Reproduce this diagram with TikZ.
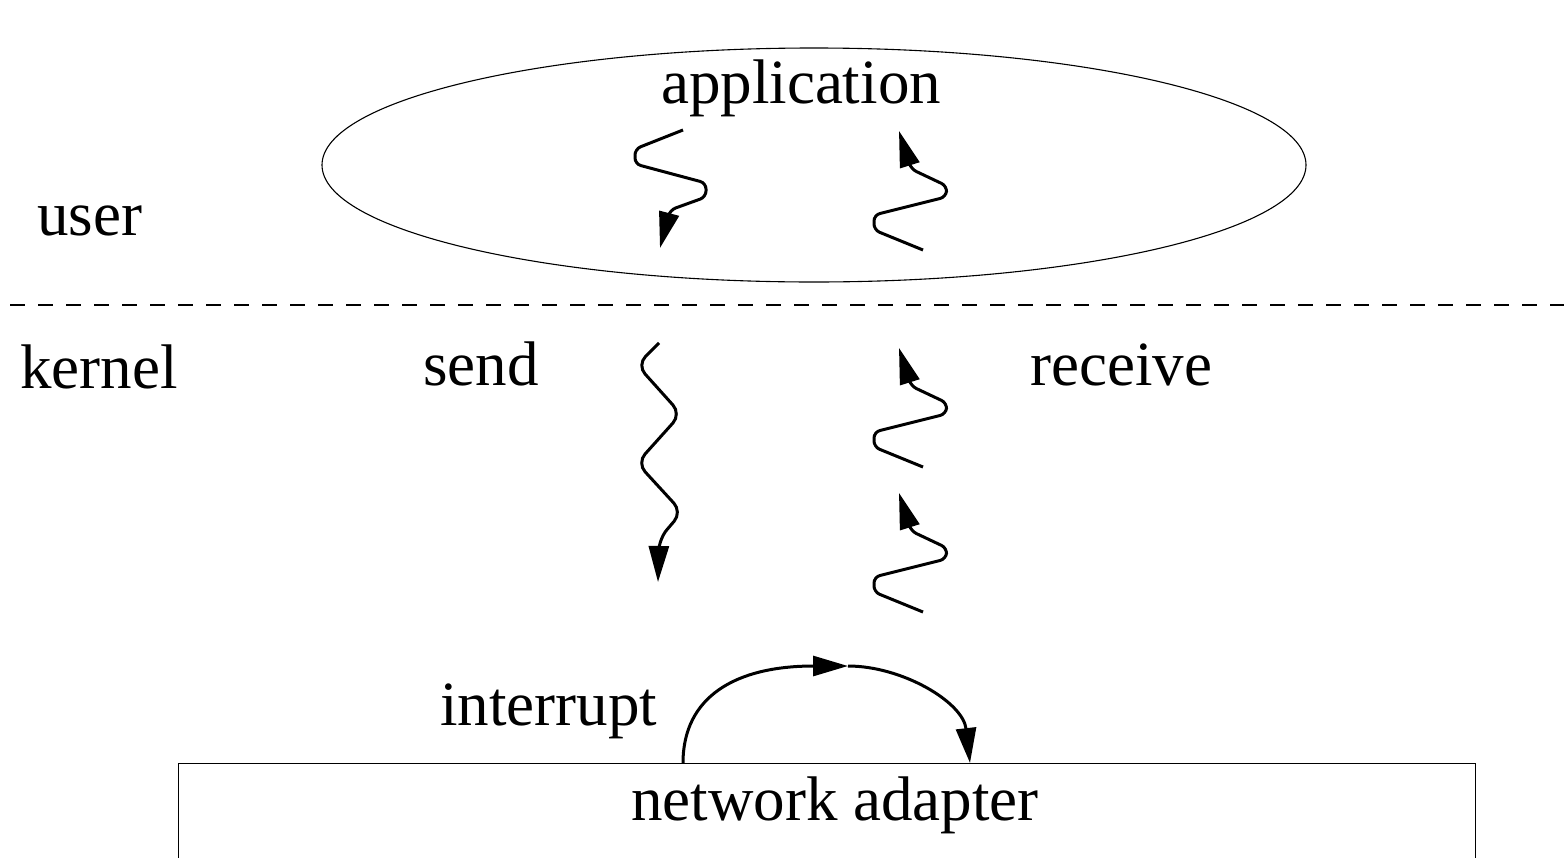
\documentclass[tikz,border=0pt]{standalone}
\usepackage{fontspec}
\setmainfont{Liberation Serif}
\usetikzlibrary{arrows.meta,shapes.geometric}

\tikzset{
  label text/.style={font=\fontsize{63}{70}\selectfont, inner sep=0pt},
  wave/.style={line width=3pt, rounded corners=6pt,
    -{Triangle[length=36pt,width=20pt]}},
  flow/.style={line width=3pt, -{Triangle[length=35pt,width=20pt]}},
}

\begin{document}
\begin{tikzpicture}[x=1pt,y=-1pt]
  \useasboundingbox (0,0) rectangle (1564,857);

  % user space: the application
  \node[draw, ellipse, line width=1.1pt, minimum width=984pt,
        minimum height=234pt, inner sep=0pt] (userspace) at (814,165) {};
  \node[label text, anchor=base] (application) at (801,103) {application};

  % user / kernel boundary
  \coordinate (bndL) at (10,305);
  \coordinate (bndR) at (1564,305);
  \draw[line width=1.3pt, dash pattern=on 15pt off 13pt] (bndL) -- (bndR);

  \node[label text, anchor=base west] (user)    at (37,235)   {user};
  \node[label text, anchor=base west] (kernel)  at (20,388)   {kernel};
  \node[label text, anchor=base west] (send)    at (423,385)  {send};
  \node[label text, anchor=base west] (receive) at (1030,385) {receive};

  % send path, user part
  \coordinate (sendU) at (683,130);
  \draw[wave] (sendU) -- ++(-48,19) -- ++(0,15) -- ++(71,19) -- ++(0,14)
              -- ++(-36,13) -- ++(-10,38);

  % send path, kernel part
  \coordinate (sendK) at (659,343);
  \draw[wave, rounded corners=12pt] (sendK) -- (637,365) -- (681,414)
              -- (637,463) -- (682,512) -- (659,539) -- (658,582);

  % receive path: two kernel stages and the user stage
  \coordinate (recvA) at (923,612);
  \coordinate (recvB) at (923,467);
  \coordinate (recvU) at (923,250);
  \foreach \s in {recvA,recvB,recvU}{
    \draw[wave] (\s) -- ++(-49,-20) -- ++(0,-15) -- ++(72,-18) -- ++(1,-11)
                -- ++(-36,-17) -- ++(-12,-38);
  }

  % network adapter
  \node[draw, line width=1.4pt, anchor=north west, minimum width=1297pt,
        minimum height=200pt, inner sep=0pt] (adapter) at (178,763) {};
  \node[label text, anchor=base] (adaptertext) at (835,820) {network adapter};

  % interrupt
  \node[label text, anchor=base west] (interrupt) at (440,725) {interrupt};
  \coordinate (irqFrom) at (683,763);
  \coordinate (irqTop)  at (848,666);
  \coordinate (irqTo)   at (970,763);
  \draw[flow] (irqFrom) .. controls (683,697) and (735,666) .. (irqTop);
  \draw[flow] (irqTop) .. controls (902,666) and (963,702) .. (irqTo);
\end{tikzpicture}
\end{document}
